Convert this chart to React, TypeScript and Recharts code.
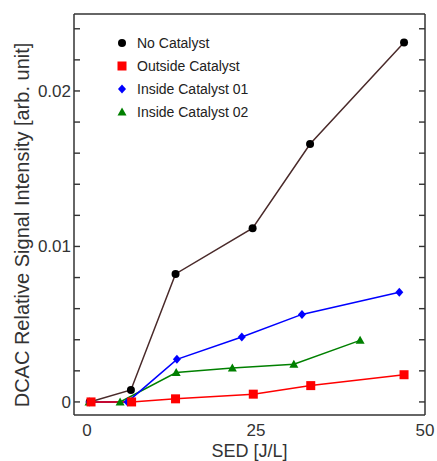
import React from 'react';
import { LineChart, Line, XAxis, YAxis, Legend } from 'recharts';

// values
const noCatalystSed = [0.4, 6.5, 13.1, 24.5, 33.0, 46.9];
const noCatalystSignal = [0, 0.00077, 0.00823, 0.01117, 0.01659, 0.02311];

const outsideSed = [0.6, 6.6, 13.1, 24.6, 33.1, 46.9];
const outsideSignal = [0, 0, 0.0002, 0.0005, 0.00105, 0.00175];

const inside01Sed = [0.4, 6.0, 13.3, 22.9, 31.8, 46.2];
const inside01Signal = [0, 0, 0.00274, 0.00418, 0.00563, 0.00705];

const inside02Sed = [0.3, 4.9, 13.2, 21.5, 30.6, 40.4];
const inside02Signal = [0, 0, 0.00189, 0.00218, 0.00242, 0.00396];

const seriesNames = ['No Catalyst', 'Outside Catalyst', 'Inside Catalyst 01', 'Inside Catalyst 02'];

const xLabelTicks = [0, 25, 50];
const xMinorTicks = [0, 5, 10, 15, 20, 25, 30, 35, 40, 45];
const yLabelTicks = [0, 0.01, 0.02];
const yMinorTicks = [0, 0.002, 0.004, 0.006, 0.008, 0.01, 0.012, 0.014, 0.016, 0.018, 0.02, 0.022, 0.024];

const xDomain: [number, number] = [-1.92, 50];
const yDomain: [number, number] = [-0.00084, 0.02495];

const toPoints = (xs: number[], ys: number[]) => xs.map((sed, i) => ({ sed, value: ys[i] }));

const noCatalyst = toPoints(noCatalystSed, noCatalystSignal);
const outside = toPoints(outsideSed, outsideSignal);
const inside01 = toPoints(inside01Sed, inside01Signal);
const inside02 = toPoints(inside02Sed, inside02Signal);

const FONT = '"Liberation Sans", Arial, sans-serif';
const FRAME = '#333';
const TICK_LINE = { stroke: FRAME, strokeWidth: 1.4 };

const markerColors = ['#000000', '#ff0000', '#0000ff', '#008000'];

const Marker = ({ kind, cx, cy }: { kind: number; cx: number; cy: number }) => {
  const c = markerColors[kind];
  if (kind === 0) return <circle cx={cx} cy={cy} r={4} fill={c} />;
  if (kind === 1) return <rect x={cx - 4.5} y={cy - 4.5} width={9} height={9} fill={c} />;
  if (kind === 2)
    return <polygon points={`${cx},${cy - 4.5} ${cx + 4},${cy} ${cx},${cy + 4.5} ${cx - 4},${cy}`} fill={c} />;
  return <polygon points={`${cx},${cy - 4.5} ${cx + 4.5},${cy + 3.5} ${cx - 4.5},${cy + 3.5}`} fill={c} />;
};

const dotFor = (kind: number) => (props: any) => {
  if (props.cx == null || props.cy == null) return <g key={`d-${kind}-${props.index}`} />;
  return (
    <g key={`d-${kind}-${props.index}`}>
      <Marker kind={kind} cx={props.cx} cy={props.cy} />
    </g>
  );
};

// tick marks only, no labels
const noLabel = () => <g />;

const renderLegend = () => (
  <div style={{ fontFamily: FONT, fontSize: 14, color: '#222' }}>
    {seriesNames.map((name, i) => (
      <div key={name} style={{ display: 'flex', alignItems: 'center', height: 23 }}>
        <svg width={14} height={12}>
          <Marker kind={i} cx={7} cy={6} />
        </svg>
        <span style={{ marginLeft: 8, whiteSpace: 'nowrap' }}>{name}</span>
      </div>
    ))}
  </div>
);

export default function App() {
  return (
    <div style={{ position: 'absolute', left: 0, top: 0, width: 437, height: 461, background: '#fff' }}>
      <LineChart width={437} height={461} margin={{ top: 14, right: 12, bottom: 0, left: 0 }}>
        <XAxis
          xAxisId="x"
          type="number"
          dataKey="sed"
          domain={xDomain}
          ticks={xLabelTicks}
          allowDataOverflow
          height={46}
          tickLine={false}
          tickSize={0}
          tickMargin={9}
          axisLine={{ stroke: FRAME, strokeWidth: 1.5 }}
          tick={{ fill: '#333', fontSize: 17, fontFamily: FONT }}
          label={{
            content: (p: any) => {
              const vb = p.viewBox || {};
              return (
                <text x={(vb.x ?? 74) + (vb.width ?? 351) / 2} y={457} textAnchor="middle" fill="#333" fontSize={18} fontFamily={FONT}>
                  SED [J/L]
                </text>
              );
            },
          }}
        />
        <XAxis
          xAxisId="xb"
          type="number"
          domain={xDomain}
          ticks={xMinorTicks}
          allowDataOverflow
          orientation="bottom"
          mirror
          height={1}
          tick={noLabel}
          tickSize={6}
          axisLine={false}
          tickLine={TICK_LINE}
        />
        <XAxis
          xAxisId="xt"
          type="number"
          domain={xDomain}
          ticks={xMinorTicks}
          allowDataOverflow
          orientation="top"
          mirror
          height={1}
          tick={noLabel}
          tickSize={6}
          axisLine={{ stroke: FRAME, strokeWidth: 1.5 }}
          tickLine={TICK_LINE}
        />
        <YAxis
          yAxisId="y"
          type="number"
          domain={yDomain}
          ticks={yLabelTicks}
          allowDataOverflow
          width={74}
          tickLine={false}
          tickSize={0}
          tickMargin={3}
          axisLine={{ stroke: FRAME, strokeWidth: 1.5 }}
          tick={{ fill: '#333', fontSize: 17, fontFamily: FONT }}
          tickFormatter={(v: number) => (v === 0 ? '0' : v.toFixed(2))}
          label={{
            content: () => (
              <text
                x={22}
                y={225}
                transform="rotate(-90 22 225)"
                textAnchor="middle"
                dominantBaseline="central"
                fill="#333"
                fontSize={20}
                fontFamily={FONT}
              >
                DCAC Relative Signal Intensity [arb. unit]
              </text>
            ),
          }}
        />
        <YAxis
          yAxisId="yl"
          type="number"
          domain={yDomain}
          ticks={yMinorTicks}
          allowDataOverflow
          orientation="left"
          mirror
          width={1}
          tick={noLabel}
          tickSize={6}
          axisLine={false}
          tickLine={TICK_LINE}
        />
        <YAxis
          yAxisId="yr"
          type="number"
          domain={yDomain}
          ticks={yMinorTicks}
          allowDataOverflow
          orientation="right"
          mirror
          width={1}
          tick={noLabel}
          tickSize={6}
          axisLine={{ stroke: FRAME, strokeWidth: 1.5 }}
          tickLine={TICK_LINE}
        />
        <Legend
          layout="vertical"
          align="center"
          verticalAlign="middle"
          content={renderLegend}
          wrapperStyle={{ left: 115, top: 31, width: 220 }}
        />
        <Line
          xAxisId="x"
          yAxisId="y"
          data={noCatalyst}
          dataKey="value"
          name={seriesNames[0]}
          stroke="#4a2a2a"
          strokeWidth={1.5}
          dot={dotFor(0)}
          isAnimationActive={false}
        />
        <Line
          xAxisId="x"
          yAxisId="y"
          data={inside02}
          dataKey="value"
          name={seriesNames[3]}
          stroke="#008000"
          strokeWidth={1.5}
          dot={dotFor(3)}
          isAnimationActive={false}
        />
        <Line
          xAxisId="x"
          yAxisId="y"
          data={inside01}
          dataKey="value"
          name={seriesNames[2]}
          stroke="#0000ff"
          strokeWidth={1.5}
          dot={dotFor(2)}
          isAnimationActive={false}
        />
        <Line
          xAxisId="x"
          yAxisId="y"
          data={outside}
          dataKey="value"
          name={seriesNames[1]}
          stroke="#ff0000"
          strokeWidth={1.5}
          dot={dotFor(1)}
          isAnimationActive={false}
        />
      </LineChart>
    </div>
  );
}
